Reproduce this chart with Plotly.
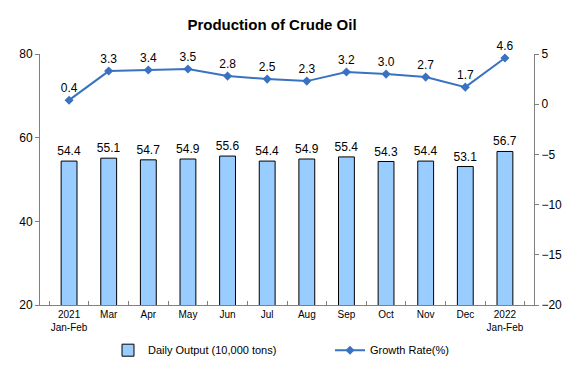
import plotly.graph_objects as go

categories = ["2021<br>Jan-Feb", "Mar", "Apr", "May", "Jun", "Jul", "Aug", "Sep", "Oct", "Nov", "Dec", "2022<br>Jan-Feb"]
daily_output = [54.4, 55.1, 54.7, 54.9, 55.6, 54.4, 54.9, 55.4, 54.3, 54.4, 53.1, 56.7]
growth_rate = [0.4, 3.3, 3.4, 3.5, 2.8, 2.5, 2.3, 3.2, 3.0, 2.7, 1.7, 4.6]

font_family = "Liberation Sans, Arial, sans-serif"
narrow = "Liberation Sans Narrow, Arial Narrow, " + font_family

fig = go.Figure()
fig.add_trace(go.Bar(
    x=categories, y=daily_output, name="Daily Output (10,000 tons)",
    marker=dict(color="#99CCFF", line=dict(color="#000000", width=1)),
    text=[f"{v:.1f}" for v in daily_output], textposition="outside",
    textangle=0, constraintext="none",
    textfont=dict(size=12, color="#000000", family=font_family),
    cliponaxis=False,
))
fig.add_trace(go.Scatter(
    x=categories, y=growth_rate, name="Growth Rate(%)", yaxis="y2",
    mode="lines+markers+text",
    line=dict(color="#3A72C2", width=2),
    marker=dict(symbol="diamond", size=7, color="#3A72C2"),
    text=[f"{v:.1f}" for v in growth_rate], textposition="top center",
    textfont=dict(size=12, color="#000000", family=font_family),
    cliponaxis=False,
))

fig.update_layout(
    width=576, height=384,
    margin=dict(l=40, r=42, t=54, b=79),
    paper_bgcolor="white", plot_bgcolor="white",
    font=dict(family=font_family, size=12, color="#000000"),
    title=dict(text="<b>Production of Crude Oil</b>", x=272 / 576, xanchor="center",
               xref="container",
               y=1 - 25 / 384, yanchor="middle", font=dict(size=15)),
    bargap=0.6,
    showlegend=True,
    legend=dict(orientation="h", x=(108 - 40) / 494, xanchor="left", y=-0.18, yanchor="middle",
                font=dict(size=11, family=narrow),
                entrywidth=177, entrywidthmode="pixels", traceorder="normal"),
    xaxis=dict(
        type="category", showline=True, linecolor="#808080", linewidth=1,
        ticks="inside", tickson="boundaries", ticklen=4, tickcolor="#808080",
        tickangle=0,
        tickfont=dict(size=10, family=narrow),
        showgrid=False, mirror=False,
    ),
    yaxis=dict(
        range=[20, 80], dtick=20, showline=True, linecolor="#808080", linewidth=1,
        ticks="outside", ticklen=4, tickcolor="#808080", showgrid=False,
        tickfont=dict(size=12), zeroline=False,
    ),
    yaxis2=dict(
        range=[-20, 5], dtick=5, overlaying="y", side="right",
        showline=True, linecolor="#808080", linewidth=1,
        ticks="outside", ticklen=4, tickcolor="#808080", showgrid=False,
        tickfont=dict(size=12), zeroline=False,
    ),
)

fig.write_html("out.html", config={"displayModeBar": False},
               post_script="document.body.style.margin='0';document.body.style.overflow='hidden';")
